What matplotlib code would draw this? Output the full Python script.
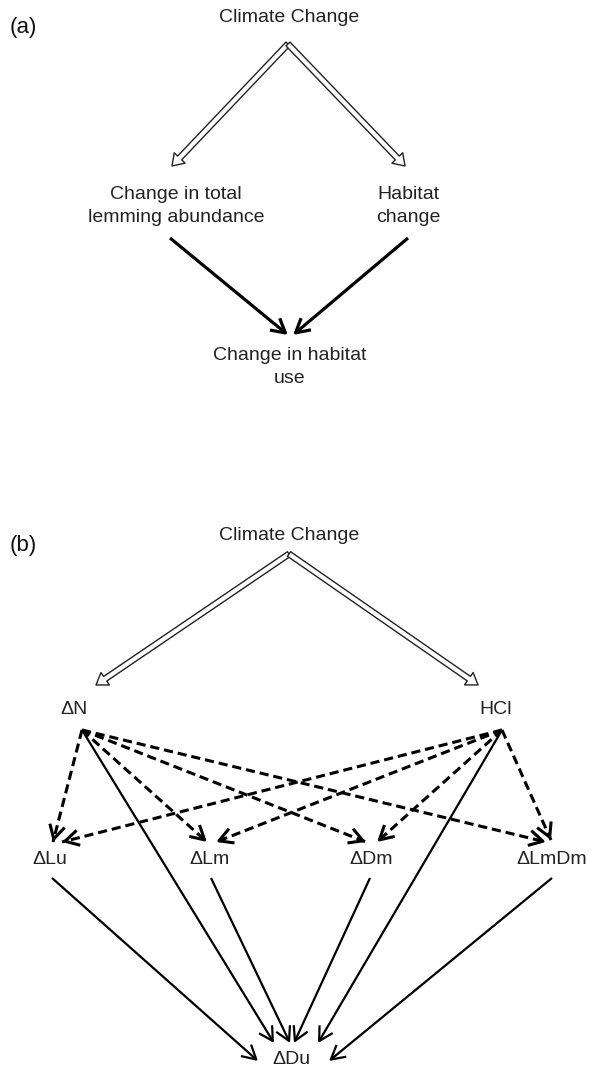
import matplotlib

matplotlib.use("Agg")
import matplotlib.pyplot as plt
from matplotlib.patches import FancyArrowPatch, ArrowStyle

plt.rcParams["font.family"] = ["Liberation Sans", "DejaVu Sans"]

# panel (a) nodes: name -> (label, x, y) in pixel coords of the 591x1070 figure
A_LABELS = {
    "cc": ("Climate Change", 289, 18),
    "abund": ("Change in total\nlemming abundance", 176, 206),
    "hab": ("Habitat\nchange", 408, 206),
    "use": ("Change in habitat\nuse", 290, 367),
}
A_HOLLOW = [((288, 44), (172, 166)), ((288, 44), (405, 166))]
A_SOLID = [((170, 238), (288, 335)), ((408, 238), (293, 335))]

# panel (b)
B_LABELS = {
    "cc": ("Climate Change", 289, 535),
    "N": ("ΔN", 74, 710),
    "HCl": ("HCl", 496, 710),
    "Lu": ("ΔLu", 50, 860),
    "Lm": ("ΔLm", 210, 860),
    "Dm": ("ΔDm", 371, 860),
    "LmDm": ("ΔLmDm", 552, 860),
    "Du": ("ΔDu", 291, 1060),
}
B_HOLLOW = [((289, 554), (96, 685)), ((289, 554), (478, 685))]
# dashed influence paths: (from, to)
B_DASHED = [
    ((82, 730), (53, 842)), ((82, 730), (207, 842)),
    ((82, 730), (366, 842)), ((82, 730), (546, 842)),
    ((502, 730), (62, 842)), ((502, 730), (216, 842)),
    ((502, 730), (377, 842)), ((502, 730), (551, 840)),
]
# solid direct paths to ΔDu
B_SOLID = [
    ((82, 730), (274, 1043)), ((502, 730), (318, 1043)),
    ((52, 878), (258, 1061)), ((211, 878), (290, 1043)),
    ((370, 878), (294, 1043)), ((552, 878), (329, 1061)),
]
PANEL_TAGS = [("(a)", 10, 28), ("(b)", 10, 545)]

W, H = 591, 1070
fig = plt.figure(figsize=(W / 100, H / 100), dpi=100)
ax = fig.add_axes([0, 0, 1, 1])
ax.set_xlim(0, W)
ax.set_ylim(H, 0)
ax.axis("off")

hollow = ArrowStyle("Simple", head_length=1.0, head_width=1.35, tail_width=0.5)
open_head = ArrowStyle("->", head_length=0.9, head_width=0.5)


def hollow_arrow(p0, p1):
    ax.add_patch(FancyArrowPatch(p0, p1, arrowstyle=hollow, mutation_scale=8,
                                 facecolor="white", edgecolor="#222222", lw=1.0,
                                 shrinkA=0, shrinkB=0, zorder=2))


def solid_arrow(p0, p1, lw):
    ax.add_patch(FancyArrowPatch(p0, p1, arrowstyle=open_head, mutation_scale=11,
                                 color="black", lw=lw, shrinkA=0, shrinkB=0,
                                 capstyle="butt", zorder=3))


def dashed_arrow(p0, p1, lw):
    ax.plot([p0[0], p1[0]], [p0[1], p1[1]], color="black", lw=lw,
            linestyle=(0, (3, 1.6)), solid_capstyle="butt", zorder=3)
    # short solid stub carrying the head
    dx, dy = p1[0] - p0[0], p1[1] - p0[1]
    d = (dx * dx + dy * dy) ** 0.5
    s = (p1[0] - dx / d * 6, p1[1] - dy / d * 6)
    solid_arrow(s, p1, lw)


for tag, x, y in PANEL_TAGS:
    ax.text(x, y, tag, fontsize=16, ha="left", va="center", color="#111111")

for label, x, y in A_LABELS.values():
    ax.text(x, y, label, fontsize=14, ha="center", va="center",
            linespacing=1.5, color="#222222")
for label, x, y in B_LABELS.values():
    ax.text(x, y, label, fontsize=14, ha="center", va="center", color="#222222")

for p0, p1 in A_HOLLOW + B_HOLLOW:
    hollow_arrow(p0, p1)
for p0, p1 in A_SOLID:
    solid_arrow(p0, p1, 2.3)
for p0, p1 in B_DASHED:
    dashed_arrow(p0, p1, 2.2)
for p0, p1 in B_SOLID:
    solid_arrow(p0, p1, 1.6)

fig.savefig("out.png", dpi=100)
